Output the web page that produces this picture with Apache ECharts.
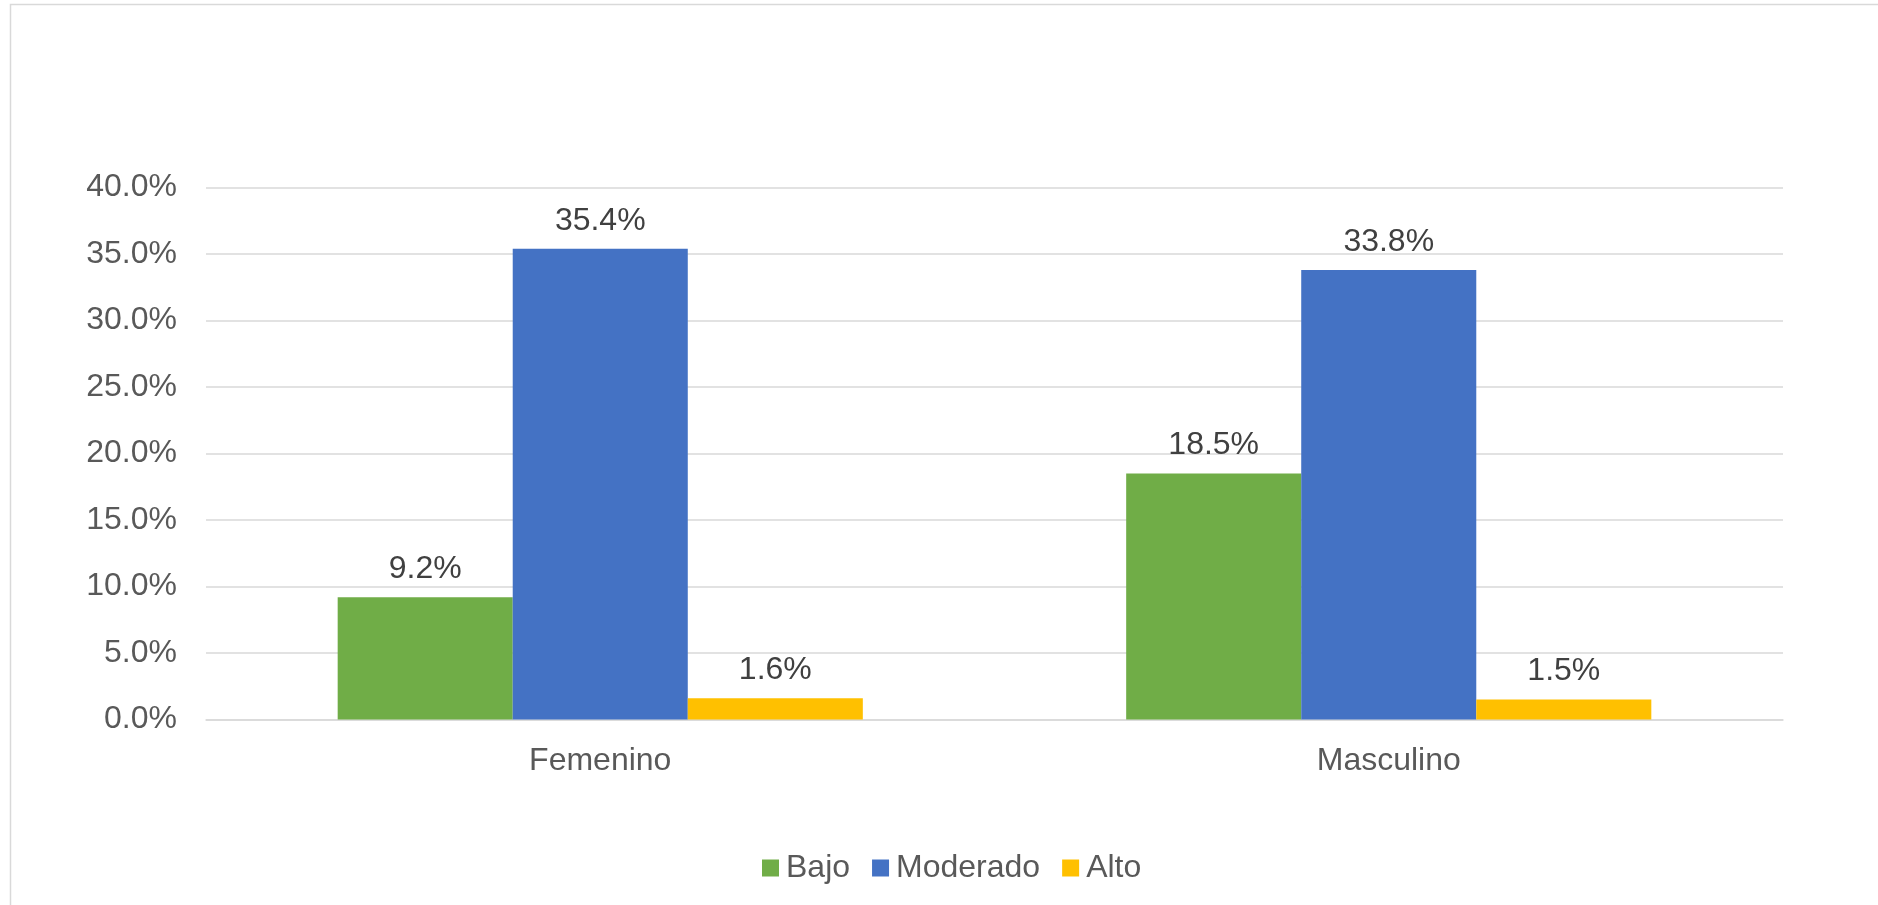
<!DOCTYPE html>
<html>
<head>
<meta charset="utf-8">
<script src="https://cdn.jsdelivr.net/npm/echarts@6/dist/echarts.min.js"></script>
<style>
html,body{margin:0;padding:0;background:#fff;}
#chart{width:1878px;height:905px;}
</style>
</head>
<body>
<div id="chart"></div>
<script>
const categories = ['Femenino', 'Masculino'];
const seriesNames = ['Bajo', 'Moderado', 'Alto'];
const bajo = [9.2, 18.5];
const moderado = [35.4, 33.8];
const alto = [1.6, 1.5];
const colors = ['#70AD47', '#4472C4', '#FFC000'];
const yTicks = { min: 0, max: 40, interval: 5 };

const FONT = '"Liberation Sans", Arial, sans-serif';
const chart = echarts.init(document.getElementById('chart'));
const values = [bajo, moderado, alto];

chart.setOption({
  animation: false,
  backgroundColor: '#fff',
  textStyle: { fontFamily: FONT },
  graphic: [{
    type: 'rect',
    shape: { x: 10.5, y: 4.5, width: 1900, height: 1000 },
    style: { fill: 'none', stroke: '#d9d9d9', lineWidth: 1.5 },
    silent: true, z: -1
  }],
  grid: { left: 206, right: 95, top: 187.5, bottom: 185.5 },
  legend: {
    bottom: 16,
    left: 757,
    itemWidth: 17,
    itemHeight: 17,
    itemGap: 22,
    icon: 'rect',
    textStyle: { fontSize: 32, color: '#595959', fontFamily: FONT, padding: [0, 0, 0, 2] },
    data: seriesNames
  },
  xAxis: {
    type: 'category',
    data: categories,
    axisLine: { lineStyle: { color: '#d9d9d9', width: 1.5 } },
    axisTick: { show: false },
    axisLabel: { fontSize: 32, color: '#595959', margin: 26, fontFamily: FONT }
  },
  yAxis: {
    type: 'value',
    min: yTicks.min, max: yTicks.max, interval: yTicks.interval,
    axisLine: { show: false },
    axisTick: { show: false },
    splitLine: { lineStyle: { color: '#d9d9d9', width: 1.5 } },
    axisLabel: {
      fontSize: 32, color: '#595959', margin: 29, fontFamily: FONT,
      padding: [8, 0, 0, 0],
      formatter: v => v.toFixed(1) + '%'
    }
  },
  series: seriesNames.map((name, i) => ({
    name: name,
    type: 'bar',
    data: values[i],
    barGap: '0%',
    barCategoryGap: '33.4%',
    itemStyle: { color: colors[i] },
    label: {
      show: true, position: 'top', distance: 12,
      fontSize: 32, color: '#404040', fontFamily: FONT,
      formatter: p => p.value.toFixed(1) + '%'
    }
  }))
});
</script>
</body>
</html>
